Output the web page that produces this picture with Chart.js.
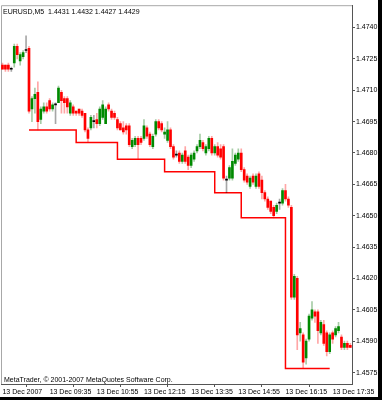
<!DOCTYPE html>
<html><head><meta charset="utf-8">
<script src="https://cdn.jsdelivr.net/npm/chart.js@4.4.0/dist/chart.umd.min.js"></script>
<style>
html,body{margin:0;padding:0;background:#000;width:382px;height:400px;overflow:hidden}
#wrap{position:absolute;left:0;top:0;width:378px;height:397px;background:#fff}
canvas{display:block}
</style></head><body>
<div id="wrap"><canvas id="c" width="378" height="397"></canvas></div>
<script>
const chartTitle = 'EURUSD,M5  1.4431 1.4432 1.4427 1.4429';
const copyright = 'MetaTrader, \u00a9 2001-2007 MetaQuotes Software Corp.';
const timeLabels = ['13 Dec 2007','13 Dec 09:35','13 Dec 10:55','13 Dec 12:15','13 Dec 13:35','13 Dec 14:55','13 Dec 16:15','13 Dec 17:35'];
const timeTickBars = [0,16,32,48,64,80,96,112];
const priceTicks = [1.4575,1.4590,1.4605,1.4620,1.4635,1.4650,1.4665,1.4680,1.4695,1.4710,1.4725,1.4740];

const opens  = [1.4722,1.4722,1.4722,1.4720,1.4723,1.4731,1.4724,1.4726,1.4729,1.4730,
1.4701,1.4706,1.4709,1.4696,1.4700,1.4702,1.4705,1.4701,1.4703,1.4704,
1.4709,1.4706,1.4706,1.4699,1.4702,1.4700,1.4701,1.4700,1.4699,1.4691,
1.4692,1.4695,1.4696,1.4694,1.4697,1.4694,1.4703,1.4700,1.4699,1.4696,
1.4694,1.4692,1.4693,1.4693,1.4683,1.4684,1.4687,1.4687,1.4687,1.4692,
1.4689,1.4683,1.4689,1.4695,1.4694,1.4689,1.4686,1.4691,1.4683,1.4679,
1.4680,1.4676,1.4681,1.4678,1.4674,1.4677,1.4681,1.4683,1.4685,1.4680,
1.4682,1.4687,1.4680,1.4683,1.4682,1.4683,1.4667,1.4668,1.4668,1.4675,
1.4677,1.4680,1.4672,1.4669,1.4664,1.4669,1.4664,1.4670,1.4667,1.4661,
1.4658,1.4657,1.4654,1.4652,1.4656,1.4656,1.4662,1.4658,1.4654,1.4611,
1.4620,1.4594,1.4593,1.4582,1.4591,1.4601,1.4604,1.4604,1.4594,1.4598,
1.4594,1.4585,1.4594,1.4593,1.4595,1.4592,1.4587,1.4589,1.4588];
const highs  = [1.4723,1.4722,1.4723,1.4721,1.4732,1.4732,1.4728,1.4729,1.4736,1.4731,
1.4707,1.4711,1.4714,1.4702,1.4704,1.4704,1.4706,1.4704,1.4704,1.4712,
1.4710,1.4707,1.4707,1.4705,1.4703,1.4700,1.4701,1.4701,1.4699,1.4692,
1.4698,1.4698,1.4699,1.4702,1.4705,1.4702,1.4704,1.4701,1.4700,1.4697,
1.4695,1.4695,1.4694,1.4694,1.4687,1.4688,1.4688,1.4688,1.4696,1.4693,
1.4690,1.4689,1.4696,1.4696,1.4695,1.4692,1.4695,1.4692,1.4684,1.4681,
1.4681,1.4680,1.4683,1.4679,1.4680,1.4681,1.4684,1.4689,1.4686,1.4684,
1.4688,1.4688,1.4684,1.4685,1.4684,1.4684,1.4669,1.4674,1.4682,1.4680,
1.4682,1.4682,1.4673,1.4670,1.4669,1.4670,1.4670,1.4671,1.4669,1.4662,
1.4659,1.4657,1.4655,1.4656,1.4658,1.4663,1.4665,1.4659,1.4655,1.4622,
1.4621,1.4599,1.4594,1.4591,1.4603,1.4609,1.4605,1.4605,1.4600,1.4600,
1.4595,1.4594,1.4595,1.4597,1.4599,1.4593,1.4590,1.4590,1.4589];
const lows   = [1.4720,1.4719,1.4719,1.4719,1.4721,1.4725,1.4722,1.4725,1.4728,1.4699,
1.4695,1.4699,1.4691,1.4694,1.4699,1.4699,1.4700,1.4700,1.4694,1.4704,
1.4699,1.4699,1.4699,1.4698,1.4698,1.4698,1.4698,1.4697,1.4690,1.4685,
1.4691,1.4692,1.4692,1.4693,1.4696,1.4694,1.4700,1.4696,1.4696,1.4691,
1.4691,1.4689,1.4689,1.4683,1.4682,1.4683,1.4677,1.4684,1.4686,1.4687,
1.4683,1.4682,1.4688,1.4691,1.4690,1.4687,1.4685,1.4682,1.4677,1.4678,
1.4675,1.4675,1.4675,1.4672,1.4673,1.4676,1.4680,1.4682,1.4681,1.4679,
1.4681,1.4679,1.4679,1.4678,1.4677,1.4667,1.4661,1.4667,1.4667,1.4674,
1.4676,1.4671,1.4666,1.4665,1.4663,1.4665,1.4663,1.4663,1.4658,1.4657,
1.4653,1.4651,1.4649,1.4651,1.4653,1.4655,1.4657,1.4654,1.4610,1.4610,
1.4586,1.4590,1.4577,1.4579,1.4590,1.4600,1.4599,1.4589,1.4593,1.4588,
1.4583,1.4584,1.4589,1.4592,1.4594,1.4586,1.4586,1.4586,1.4587];
const closes = [1.4720,1.4720,1.4720,1.4720,1.4731,1.4727,1.4727,1.4728,1.4729,1.4700,
1.4706,1.4708,1.4695,1.4701,1.4702,1.4700,1.4701,1.4703,1.4703,1.4711,
1.4705,1.4704,1.4702,1.4704,1.4699,1.4699,1.4699,1.4698,1.4691,1.4687,
1.4697,1.4695,1.4694,1.4701,1.4703,1.4701,1.4701,1.4697,1.4697,1.4692,
1.4691,1.4690,1.4691,1.4684,1.4686,1.4687,1.4684,1.4685,1.4693,1.4688,
1.4684,1.4688,1.4695,1.4692,1.4691,1.4690,1.4691,1.4683,1.4678,1.4679,
1.4676,1.4679,1.4676,1.4674,1.4679,1.4680,1.4683,1.4686,1.4682,1.4683,
1.4687,1.4680,1.4683,1.4679,1.4678,1.4668,1.4667,1.4673,1.4676,1.4679,
1.4680,1.4672,1.4667,1.4666,1.4668,1.4666,1.4669,1.4664,1.4661,1.4658,
1.4654,1.4652,1.4650,1.4655,1.4656,1.4662,1.4658,1.4655,1.4611,1.4621,
1.4593,1.4596,1.4580,1.4590,1.4602,1.4605,1.4602,1.4595,1.4599,1.4589,
1.4585,1.4593,1.4591,1.4596,1.4597,1.4587,1.4589,1.4587,1.4587];

const stopBars   = [9,25,39,55,72,81,96,111];
const stopLevels = [1.4691,1.4685,1.4677,1.4671,1.4661,1.4649,1.4577,1.4577];

const FONT = '"Liberation Sans", Arial, sans-serif';
const UP = '#008a00', DOWN = '#ff0000', DOJI = '#000000';
const UP_W = 'rgba(0,110,0,0.35)', DOWN_W = 'rgba(255,0,0,0.35)', DOJI_W = 'rgba(0,0,0,0.35)';

const dir = opens.map((o,i)=> closes[i] > o ? 1 : (closes[i] < o ? -1 : 0));
const bodyColors = dir.map(d => d > 0 ? UP : (d < 0 ? DOWN : DOJI));
const wickColors = dir.map(d => d > 0 ? UP_W : (d < 0 ? DOWN_W : DOJI_W));

const textPlugin = {
  id: 'mtText',
  beforeDatasetsDraw(chart) {
    const {ctx, chartArea} = chart;
    ctx.save();
    ctx.strokeStyle = '#a8a8a8';
    ctx.lineWidth = 1;
    ctx.beginPath();
    ctx.moveTo(chartArea.left + 0.5, chartArea.bottom);
    ctx.lineTo(chartArea.left + 0.5, chartArea.top + 0.5);
    ctx.lineTo(chartArea.right, chartArea.top + 0.5);
    ctx.stroke();
    ctx.restore();
  },
  afterDraw(chart) {
    const {ctx, chartArea} = chart;
    ctx.save();
    ctx.font = '7px ' + FONT;
    ctx.fillStyle = '#000';
    ctx.textBaseline = 'alphabetic';
    ctx.textAlign = 'left';
    ctx.fillText(chartTitle, chartArea.left + 2, chartArea.top + 9);
    ctx.fillText(copyright, chartArea.left + 3, chartArea.bottom - 2);
    ctx.restore();
  }
};

new Chart(document.getElementById('c'), {
  type: 'bar',
  data: {
    datasets: [
      { type: 'line', data: stopBars.map((b,k)=>({x:b, y:stopLevels[k]})), borderColor: '#ff0000',
        borderWidth: 1.5, pointRadius: 0, stepped: true, fill: false, order: 3 },
      { data: highs.map((h,i)=>({x:i, y:[lows[i], h]})), backgroundColor: wickColors,
        barThickness: 1, grouped: false, order: 2 },
      { data: opens.map((o,i)=>({x:i, y:[o, closes[i]]})), backgroundColor: bodyColors,
        barThickness: 2, minBarLength: 1, grouped: false, order: 1 }
    ]
  },
  options: {
    responsive: false,
    devicePixelRatio: 1,
    animation: false,
    layout: { padding: { left: 1, top: 1, right: 0, bottom: 0 } },
    plugins: { legend: { display: false }, tooltip: { enabled: false }, title: { display: false } },
    scales: {
      x: {
        type: 'linear', min: -0.5, max: 118.57, offset: false, position: 'bottom',
        afterBuildTicks: s => { s.ticks = timeTickBars.map(v => ({value: v})); },
        afterFit: s => { s.height = 13; s.paddingLeft = 0; s.paddingRight = 0; },
        ticks: { autoSkip: false, maxRotation: 0, minRotation: 0, align: 'start', padding: 1,
          color: '#000', font: { family: FONT, size: 7 }, callback: (v, i) => timeLabels[i] },
        grid: { drawOnChartArea: false, drawTicks: true, tickLength: 3, color: '#555' },
        border: { display: true, color: '#555', width: 1 }
      },
      y: {
        type: 'linear', position: 'right', min: 1.456954, max: 1.475064,
        afterBuildTicks: s => { s.ticks = priceTicks.map(v => ({value: v})); },
        afterFit: s => { s.width = 26; },
        ticks: { padding: 1, color: '#000', font: { family: FONT, size: 7 }, callback: v => v.toFixed(4) },
        grid: { drawOnChartArea: false, drawTicks: true, tickLength: 3, color: '#555' },
        border: { display: true, color: '#555', width: 1 }
      }
    }
  },
  plugins: [textPlugin]
});
</script>
</body></html>
